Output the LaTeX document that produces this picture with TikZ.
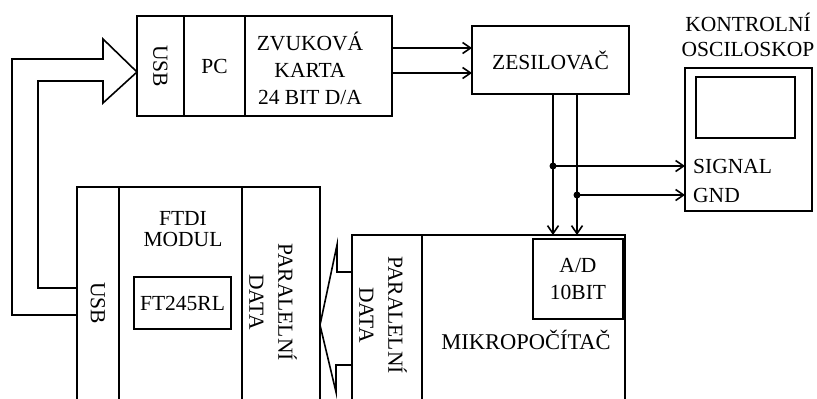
\documentclass[tikz,border=0pt]{standalone}
\usepackage{fontspec}
\setmainfont{Liberation Serif}
\usetikzlibrary{arrows.meta,positioning,calc}

\begin{document}
\begin{tikzpicture}[x=1pt,y=-1pt,>={Straight Barb[length=8pt,width=11pt]},
font=\fontsize{21.5}{25}\selectfont,
part/.style={inner sep=0pt,outer sep=0pt,align=center},
block/.style={draw,line width=1.8pt,inner sep=0pt,outer sep=0pt,align=center},
frame/.style={line width=1.8pt},
divider/.style={line width=2.7pt},
wire/.style={line width=1.6pt},
hollow/.style={line width=1.6pt,line join=miter},
vtext/.style={rotate=-90,align=center}]
\useasboundingbox (0,0) rectangle (817,399);
\clip (0,0) rectangle (817,399);
% PC with sound card
\node[part,minimum width=47pt,minimum height=100pt] (usbpc) at (160.5,66) {};
\node[part,right=0pt of usbpc,minimum width=61pt,minimum height=100pt] (pc) {PC};
\node[part,right=0pt of pc,minimum width=147pt,minimum height=100pt] (zvuk) {};
\node[vtext] (usbpclbl) at (usbpc) {USB};
\node[align=center,font=\fontsize{21.5}{27}\selectfont] (zvuklbl) at (310,68) {ZVUKOVÁ\\KARTA\\24 BIT D/A};
\draw[frame] (usbpc.north west) rectangle (zvuk.south east);
\draw[divider] (usbpc.north east)--(usbpc.south east);
\draw[divider] (pc.north east)--(pc.south east);
% amplifier and scope
\node[block,minimum width=157pt,minimum height=68pt] (amp) at (550.5,60) {ZESILOVAČ};
\node[block,minimum width=127pt,minimum height=143pt] (osc) at (748.5,139.5) {};
\node[block,line width=2.2pt,minimum width=99pt,minimum height=61pt] (screen) at (745.5,107.5) {};
\node[align=center] (osclbl) at (748,35) {KONTROLNÍ\\OSCILOSKOP};
\node[anchor=west,inner xsep=0pt] (signal) at (693,166) {SIGNAL};
\node[anchor=west,inner xsep=0pt] (gnd) at (693,195) {GND};
% FTDI module
\node[part,minimum width=42pt,minimum height=233pt] (usbft) at (98,303.5) {};
\node[part,right=0pt of usbft,minimum width=123pt,minimum height=233pt] (ftdi) {};
\node[part,right=0pt of ftdi,minimum width=78pt,minimum height=233pt] (parft) {};
\node[vtext] (usbftlbl) at (98,303) {USB};
\node[align=center,font=\fontsize{21.5}{21}\selectfont] (ftdilbl) at (183,229) {FTDI\\MODUL};
\node[block,minimum width=97pt,minimum height=52pt] (chip) at (182.5,303) {FT245RL};
\node[vtext] (parftlbl) at (273,302) {PARALELNÍ\\[4pt]DATA};
\draw[frame] (usbft.north west) rectangle (parft.south east);
\draw[divider] (usbft.north east)--(usbft.south east);
\draw[divider] (ftdi.north east)--(ftdi.south east);
% microcomputer
\node[part,minimum width=70pt,minimum height=185pt] (parmk) at (387,327.5) {};
\node[part,right=0pt of parmk,minimum width=203pt,minimum height=185pt] (micro) {};
\node[vtext] (parmklbl) at (383,315) {PARALELNÍ\\[4pt]DATA};
\node[block,minimum width=90pt,minimum height=80pt,font=\fontsize{21.5}{27}\selectfont] (adc) at (578,279) {A/D\\10BIT};
\node[font=\fontsize{22.5}{25}\selectfont] (mklbl) at (526,340) {MIKROPOČÍTAČ};
\draw[frame] (parmk.north west) rectangle (micro.south east);
\draw[divider] (parmk.north east)--(parmk.south east);
% wires
\coordinate (sig) at (553,166);
\coordinate (gndp) at (577,195);
\draw[wire,->] ([yshift=18pt]zvuk.east)--([yshift=18pt]zvuk.east -| amp.west);
\draw[wire,->] ([yshift=-7pt]zvuk.east)--([yshift=-7pt]zvuk.east -| amp.west);
\draw[wire,->] (amp.south -| sig)--(micro.north -| sig);
\draw[wire,->] (amp.south -| gndp)--(micro.north -| gndp);
\draw[wire,->] (sig)--(osc.west |- sig);
\draw[wire,->] (gndp)--(osc.west |- gndp);
\fill (sig) circle (3.5pt);
\fill (gndp) circle (3.5pt);
% hollow arrows
\draw[hollow] (77,315)--(12,315)--(12,59)--(103,59)--(103,39)--(137,72)--(103,103)--(103,81)--(38,81)--(38,288)--(77,288);
\draw[hollow] (352,272)--(337,272)--(337,245)--(320,325)--(336,392)--(336,365)--(352,365);
\end{tikzpicture}
\end{document}
